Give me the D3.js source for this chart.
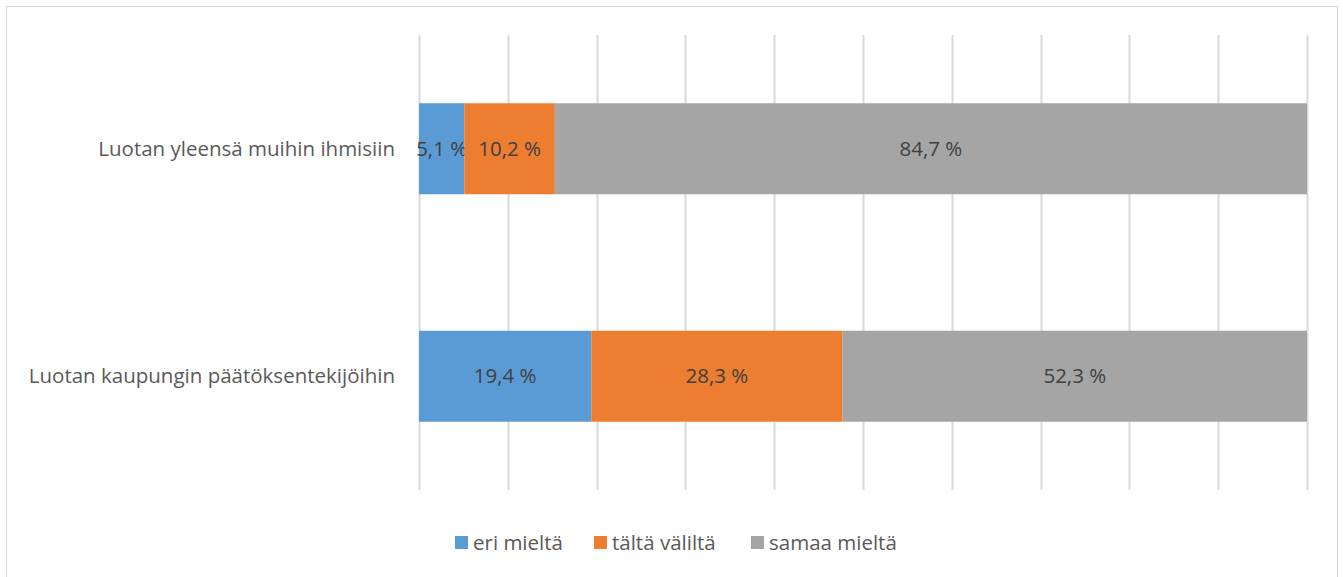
<!DOCTYPE html>
<html>
<head>
<meta charset="utf-8">
<script src="https://cdn.jsdelivr.net/npm/d3@7"></script>
<style>
  body { margin: 0; background: #fff; }
  svg { display: block; font-family: "Open Sans", sans-serif; }
</style>
</head>
<body>
<div id="chart"></div>
<script>
const categories = ["Luotan yleensä muihin ihmisiin", "Luotan kaupungin päätöksentekijöihin"];
const seriesNames = ["eri mieltä", "tältä väliltä", "samaa mieltä"];
const eriMielta = [5.1, 19.4];
const taltaValilta = [10.2, 28.3];
const samaaMielta = [84.7, 52.3];
const colors = ["#5B9BD5", "#ED7D31", "#A5A5A5"];
const xTicks = [0, 10, 20, 30, 40, 50, 60, 70, 80, 90, 100];

const width = 1343, height = 577;
const margin = {top: 35, right: 36, bottom: 87, left: 419};
const fontSize = 20.5;

const svg = d3.select("#chart").append("svg")
    .attr("width", width)
    .attr("height", height);

// chart frame
svg.append("rect")
    .attr("x", 6.5).attr("y", 6.5)
    .attr("width", 1331).attr("height", 580)
    .attr("fill", "none")
    .attr("stroke", "#d9d9d9");

const x = d3.scaleLinear()
    .domain([0, 100])
    .range([margin.left, width - margin.right]);

const y = d3.scaleBand()
    .domain(categories)
    .range([margin.top, height - margin.bottom])
    .paddingInner(0.6)
    .paddingOuter(0.3);

// gridlines
svg.append("g")
    .selectAll("line")
    .data(xTicks)
    .join("line")
    .attr("x1", d => Math.round(x(d)) + 0.5)
    .attr("x2", d => Math.round(x(d)) + 0.5)
    .attr("y1", margin.top)
    .attr("y2", height - margin.bottom)
    .attr("stroke", "#d9d9d9")
    .attr("stroke-width", 2);

const rows = categories.map((c, i) => ({cat: c, vals: [eriMielta[i], taltaValilta[i], samaaMielta[i]]}));
const stacked = d3.stack().keys([0, 1, 2]).value((d, k) => d.vals[k])(rows);

const seg = svg.append("g")
    .selectAll("g")
    .data(stacked)
    .join("g")
    .attr("fill", (d, i) => colors[i]);

seg.selectAll("rect")
    .data(d => d)
    .join("rect")
    .attr("x", d => x(d[0]))
    .attr("width", d => x(d[1]) - x(d[0]))
    .attr("y", d => y(d.data.cat))
    .attr("height", y.bandwidth());

seg.selectAll("text")
    .data(d => d)
    .join("text")
    .attr("x", d => (x(d[0]) + x(d[1])) / 2)
    .attr("y", d => y(d.data.cat) + y.bandwidth() / 2)
    .attr("dy", "0.35em")
    .attr("text-anchor", "middle")
    .attr("fill", "#404040")
    .attr("font-size", fontSize)
    .text(d => d3.format(".1f")(d[1] - d[0]).replace(".", ",") + " %");

// category labels
svg.append("g")
    .selectAll("text")
    .data(categories)
    .join("text")
    .attr("x", margin.left - 24)
    .attr("y", d => y(d) + y.bandwidth() / 2)
    .attr("dy", "0.35em")
    .attr("text-anchor", "end")
    .attr("fill", "#595959")
    .attr("font-size", fontSize)
    .text(d => d);

// legend
const legendX = [455, 594, 751];
const legend = svg.append("g")
    .selectAll("g")
    .data(seriesNames)
    .join("g")
    .attr("transform", (d, i) => `translate(${legendX[i]},543)`);

legend.append("rect")
    .attr("x", 0).attr("y", -7)
    .attr("width", 13).attr("height", 13)
    .attr("fill", (d, i) => colors[i]);

legend.append("text")
    .attr("x", 18)
    .attr("dy", "0.35em")
    .attr("fill", "#595959")
    .attr("font-size", fontSize)
    .text(d => d);
</script>
</body>
</html>
